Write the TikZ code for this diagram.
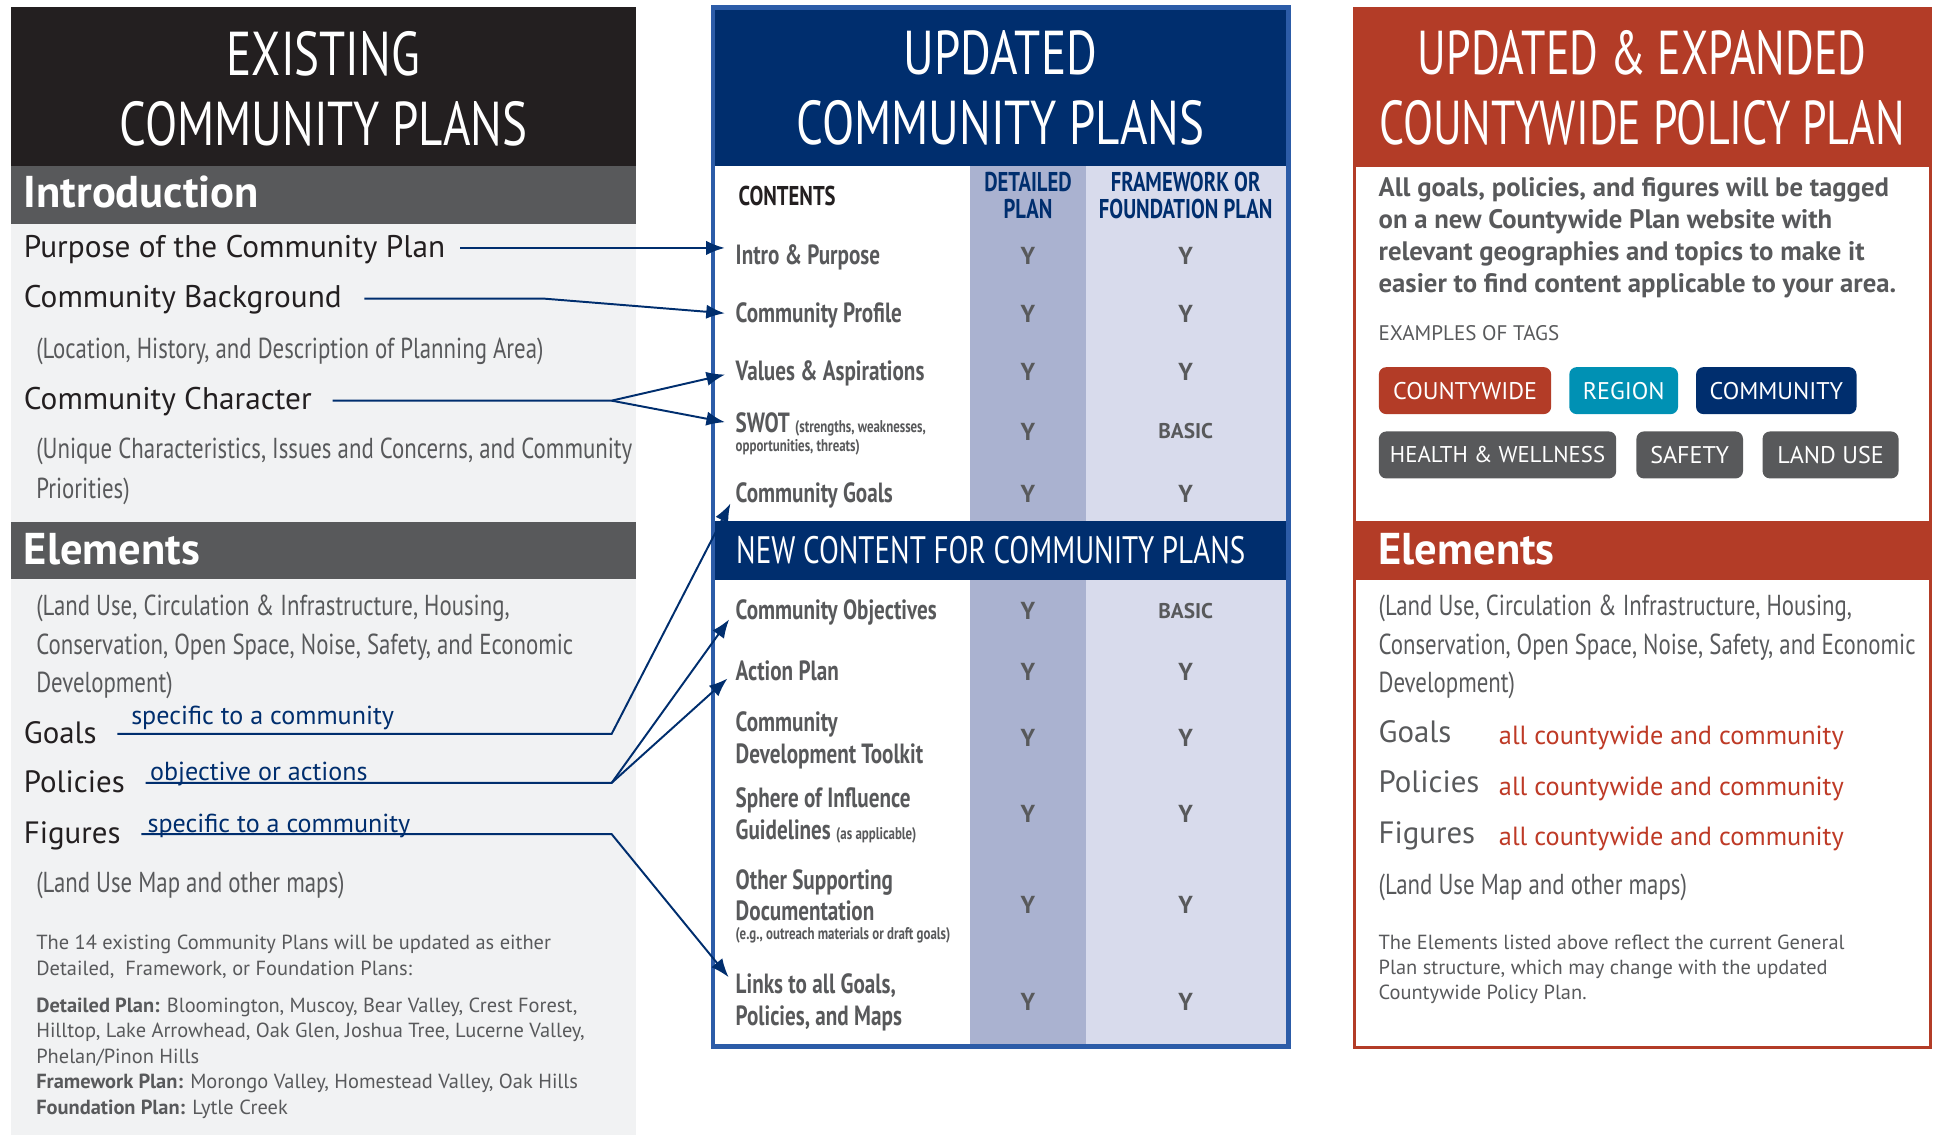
\documentclass[tikz,border=0pt]{standalone}
\usepackage{fontspec}
\setmainfont{PT Sans}
\newfontfamily\condfont{PT Sans}[FakeStretch=0.76]
\newfontfamily\asidefont{PT Sans}[FakeStretch=0.79]
\newfontfamily\narrowfont{PT Sans}[FakeStretch=0.71]
\usetikzlibrary{positioning}
\usetikzlibrary{arrows.meta}
\definecolor{inkblack}{RGB}{35,31,32}
\definecolor{slate}{RGB}{88,89,91}
\definecolor{paper}{RGB}{241,242,243}
\definecolor{navy}{RGB}{0,46,110}
\definecolor{rim}{RGB}{44,92,168}
\definecolor{coldet}{RGB}{170,178,208}
\definecolor{colfw}{RGB}{216,219,236}
\definecolor{brick}{RGB}{179,60,39}
\definecolor{teal}{RGB}{0,145,180}
\definecolor{bricktext}{RGB}{190,58,38}
\tikzset{
	heading/.style={anchor=base, inner sep=0pt, text=white, font=\condfont\fontsize{28.5}{30}\selectfont},
	barlabel/.style={anchor=base west, inner sep=0pt, text=white, font=\bfseries\fontsize{20.5}{22}\selectfont},
	item/.style={anchor=base west, inner sep=0pt, text height=0.3cm, text depth=0pt, text=inkblack, font=\fontsize{14.4}{15}\selectfont},
	bigitem/.style={item, font=\fontsize{14.2}{15}\selectfont},
	% multi-line nodes sit on their last baseline
	aside/.style={anchor=base west, inner sep=0pt, align=left, text=slate, font=\asidefont\fontsize{13.3}{17.6}\selectfont},
	note/.style={anchor=base west, inner sep=0pt, text=navy, font=\fontsize{12}{13}\selectfont},
	fine/.style={anchor=base west, inner sep=0pt, align=left, text=slate, font=\fontsize{9.4}{11.7}\selectfont},
	% table cells
	rowlab/.style={anchor=base west, inner sep=0pt, text height=0.28cm, text depth=0pt, text=slate, font=\condfont\bfseries\fontsize{12.8}{14}\selectfont},
	rowsub/.style={anchor=base west, inner sep=0pt, text=slate, font=\condfont\bfseries\fontsize{7.8}{9}\selectfont},
	colhead/.style={anchor=base, inner sep=0pt, align=center, text=navy, font=\condfont\bfseries\fontsize{12.5}{12.35}\selectfont},
	cell/.style={anchor=base, inner sep=0pt, text=slate, font=\bfseries\fontsize{11.3}{12}\selectfont},
	basic/.style={cell, font=\bfseries\fontsize{9.8}{11}\selectfont},
	tagbox/.style={rounded corners=0.12cm, inner sep=0pt, text=white, minimum height=0.76cm, font=\fontsize{11.1}{12}\selectfont},
	link/.style={draw=navy, line width=0.9pt, ->, >={Latex[length=0.3cm, width=0.23cm]}, shorten >=0.17cm},
}

\begin{document}
\begin{tikzpicture}[x=0.02cm, y=-0.02cm]
	\useasboundingbox (0,0) rectangle (1568,918);
	% existing plans
	\fill[inkblack] (9,6) rectangle (514,134);
	\fill[slate] (9,134) rectangle (514,181);
	\fill[paper] (9,181) rectangle (514,918);
	\fill[slate] (9,422) rectangle (514,468);
	\node (existing) [heading] at (261.5,61) {EXISTING};
	\node (plans) [heading] at (261.5,117.8) {COMMUNITY PLANS};
	\node (introbar) [barlabel] at (19,167.5) {Introduction};
	\node (purpose) [item] at (19,208) {Purpose of the Community Plan};
	\node (background) [item] at (19,249) {Community Background};
	\node (location) [aside] at (29,290) {(Location, History, and Description of Planning Area)};
	\node (character) [item] at (19,331.5) {Community Character};
	\node (unique) [aside, font=\asidefont\fontsize{13.3}{18.2}\selectfont] at (29,403) {(Unique Characteristics, Issues and Concerns, and Community\\Priorities)};
	\node (elembar) [barlabel] at (19,456.7) {Elements};
	\node (landuse) [aside] at (29,559.9) {(Land Use, Circulation \& Infrastructure, Housing,\\Conservation, Open Space, Noise, Safety, and Economic\\Development)};
	\node (goals) [bigitem] at (19,601) {Goals};
	\node (policies) [bigitem] at (19,640.6) {Policies};
	\node (figures) [bigitem] at (19,682) {Figures};
	\node (goalsnote) [note] at (105.8,586) {specific to a community};
	\node (policiesnote) [note] at (121,631) {objective or actions};
	\node (figuresnote) [note] at (119,673) {specific to a community};
	\node (maps) [aside] at (29,722) {(Land Use Map and other maps)};
	\node (either) [fine] at (29,788.6) {The 14 existing Community Plans will be updated as either\\Detailed,\ \ Framework, or Foundation Plans:};
	\node (which) [fine] at (29,900.9) {\textbf{Detailed Plan:} Bloomington, Muscoy, Bear Valley, Crest Forest,\\Hilltop, Lake Arrowhead, Oak Glen, Joshua Tree, Lucerne Valley,\\Phelan/Pinon Hills\\\textbf{Framework Plan:} Morongo Valley, Homestead Valley, Oak Hills\\\textbf{Foundation Plan:} Lytle Creek};

	% updated plans
	\fill[rim] (574.7,4.3) rectangle (1044,848);
	\fill[navy] (578.4,8) rectangle (1040.3,134);
	\fill[white] (578.4,134) rectangle (784.5,844.5);
	\fill[coldet] (784.5,134) rectangle (878,844.5);
	\fill[colfw] (878,134) rectangle (1040.3,844.5);
	\fill[navy] (578.4,421.5) rectangle (1040.3,469);
	\node (cUpdated) [heading] at (809,60.6) {UPDATED};
	\node (cPlans) [heading] at (809,117) {COMMUNITY PLANS};
	\node (contents) [colhead, anchor=base west, text=inkblack] at (597,166) {CONTENTS};
	\node (detailed) [colhead] at (831.3,176.7) {DETAILED\\PLAN};
	\node (framework) [colhead] at (958.8,176.7) {FRAMEWORK OR\\FOUNDATION PLAN};
	\node (rIntro) [rowlab] at (594.6,213.6) {Intro \& Purpose};
	\node (rProfile) [rowlab] at (594.6,261) {Community Profile};
	\node (rValues) [rowlab] at (594.6,308) {Values \& Aspirations};
	\node (rSwot) [rowlab] at (594.6,350) {SWOT {\fontsize{7.8}{9}\selectfont (strengths, weaknesses,}};
	\node (rSwotB) [rowsub] at (594.6,365.3) {opportunities, threats)};
	\node (rGoals) [rowlab] at (594.6,406.6) {Community Goals};
	\node (newcontent) [heading, anchor=base west, font=\condfont\fontsize{17.6}{19}\selectfont] at (595,455.7) {NEW CONTENT FOR COMMUNITY PLANS};
	\node (rObjectives) [rowlab] at (594.6,501) {Community Objectives};
	\node (rAction) [rowlab] at (594.6,550) {Action Plan};
	\node (rToolkit) [rowlab] at (594.6,591.6) {Community};
	\node (rToolkitB) [rowlab] at (594.6,617.7) {Development Toolkit};
	\node (rSphere) [rowlab] at (594.6,653) {Sphere of Influence};
	\node (rSphereB) [rowlab] at (594.6,679) {Guidelines {\fontsize{7.8}{9}\selectfont (as applicable)}};
	\node (rOther) [rowlab] at (594.6,719) {Other Supporting};
	\node (rOtherB) [rowlab] at (594.6,744.5) {Documentation};
	\node (rOtherC) [rowsub] at (594.6,759.5) {(e.g., outreach materials or draft goals)};
	\node (rLinks) [rowlab] at (594.6,803.8) {Links to all Goals,};
	\node (rLinksB) [rowlab] at (594.6,829.5) {Policies, and Maps};

	\node (d1) [cell] at (831.3,213.6) {Y};
	\node (f1) [cell] at (958.8,213.6) {Y};
	\node (d2) [cell] at (831.3,261) {Y};
	\node (f2) [cell] at (958.8,261) {Y};
	\node (d3) [cell] at (831.3,308) {Y};
	\node (f3) [cell] at (958.8,308) {Y};
	\node (d4) [cell] at (831.3,356) {Y};
	\node (f4) [basic] at (958.8,355) {BASIC};
	\node (d5) [cell] at (831.3,406) {Y};
	\node (f5) [cell] at (958.8,406) {Y};
	\node (d6) [cell] at (831.3,501) {Y};
	\node (f6) [basic] at (958.8,500) {BASIC};
	\node (d7) [cell] at (831.3,550) {Y};
	\node (f7) [cell] at (958.8,550) {Y};
	\node (d8) [cell] at (831.3,604) {Y};
	\node (f8) [cell] at (958.8,604) {Y};
	\node (d9) [cell] at (831.3,665.3) {Y};
	\node (f9) [cell] at (958.8,665.3) {Y};
	\node (d10) [cell] at (831.3,739) {Y};
	\node (f10) [cell] at (958.8,739) {Y};
	\node (d11) [cell] at (831.3,817) {Y};
	\node (f11) [cell] at (958.8,817) {Y};

	% countywide plan
	\fill[brick] (1094.5,5.8) rectangle (1562,134);
	\draw[brick, line width=0.044cm] (1095.6,134) rectangle (1560.9,846.9);
	\fill[brick] (1094.5,421.5) rectangle (1562,469);
	\node (xUpdated) [heading, font=\narrowfont\fontsize{28.5}{30}\selectfont] at (1328,60.6) {UPDATED \& EXPANDED};
	\node (xPlan) [heading, font=\narrowfont\fontsize{28.5}{30}\selectfont] at (1328,117) {COUNTYWIDE POLICY PLAN};
	\node (tagged) [fine, font=\bfseries\fontsize{12.3}{14.7}\selectfont] at (1114.5,236.4) {All goals, policies, and figures will be tagged\\on a new Countywide Plan website with\\relevant geographies and topics to make it\\easier to find content applicable to your area.};
	\node (examples) [fine, font=\fontsize{9.7}{11}\selectfont] at (1114.5,275) {EXAMPLES OF TAGS};
	\node (tCounty) [tagbox, fill=brick, minimum width=2.788cm] at (1184.7,315.9) {COUNTYWIDE};
	\node (tRegion) [tagbox, fill=teal, minimum width=1.76cm] at (1313,315.9) {REGION};
	\node (tCommunity) [tagbox, fill=navy, minimum width=2.596cm] at (1436.4,315.9) {COMMUNITY};
	\node (tHealth) [tagbox, fill=slate, minimum width=3.84cm, font=\fontsize{10.5}{12}\selectfont] at (1211,367.9) {HEALTH \& WELLNESS};
	\node (tSafety) [tagbox, fill=slate, minimum width=1.724cm] at (1366.4,367.9) {SAFETY};
	\node (tLand) [tagbox, fill=slate, minimum width=2.2cm] at (1480.3,367.9) {LAND USE};
	\node (xElements) [barlabel] at (1114.5,456.7) {Elements};
	\node (xLanduse) [aside] at (1114.5,559.9) {(Land Use, Circulation \& Infrastructure, Housing,\\Conservation, Open Space, Noise, Safety, and Economic\\Development)};
	\node (xGoals) [bigitem, text=slate] at (1114.5,600.8) {Goals};
	\node (xPolicies) [bigitem, text=slate] at (1114.5,640.8) {Policies};
	\node (xFigures) [bigitem, text=slate] at (1114.5,682) {Figures};
	\node (xGoalsAll) [note, text=bricktext, font=\fontsize{12.1}{14}\selectfont] at (1211.8,602.4) {all countywide and community};
	\node (xPoliciesAll) [note, text=bricktext, font=\fontsize{12.1}{14}\selectfont] at (1211.8,643) {all countywide and community};
	\node (xFiguresAll) [note, text=bricktext, font=\fontsize{12.1}{14}\selectfont] at (1211.8,683.7) {all countywide and community};
	\node (xMaps) [aside] at (1114.5,723.6) {(Land Use Map and other maps)};
	\node (xNote) [fine, font=\fontsize{9.4}{11.55}\selectfont] at (1114.5,808.6) {The Elements listed above reflect the current General\\Plan structure, which may change with the updated\\Countywide Policy Plan.};

	\coordinate (kink) at (440,0);
	\coordinate (spine) at (494.6,0);
	\begin{scope}[link]
		\draw ([xshift=0.24cm]purpose.east) -- (purpose.east -| rIntro.west);
		\draw ([xshift=0.36cm]background.east) -- (background.east -| kink) -- (rProfile.west);
		\draw ([xshift=0.33cm]character.east) -- (character.east -| spine) coordinate (jChar) -- (rValues.west);
		\draw (jChar) -- (rSwot.west);
		\draw ([xshift=0.33cm]goals.east) -- (goals.east -| spine) -- (rGoals.west);
		\draw ([xshift=0.33cm]policies.east) -- (policies.east -| spine) coordinate (jPol) -- (rObjectives.west);
		\draw (jPol) -- (rAction.west);
		\draw ([xshift=0.33cm]figures.east) -- (figures.east -| spine) -- (rLinks.west);
	\end{scope}
\end{tikzpicture}
\end{document}
